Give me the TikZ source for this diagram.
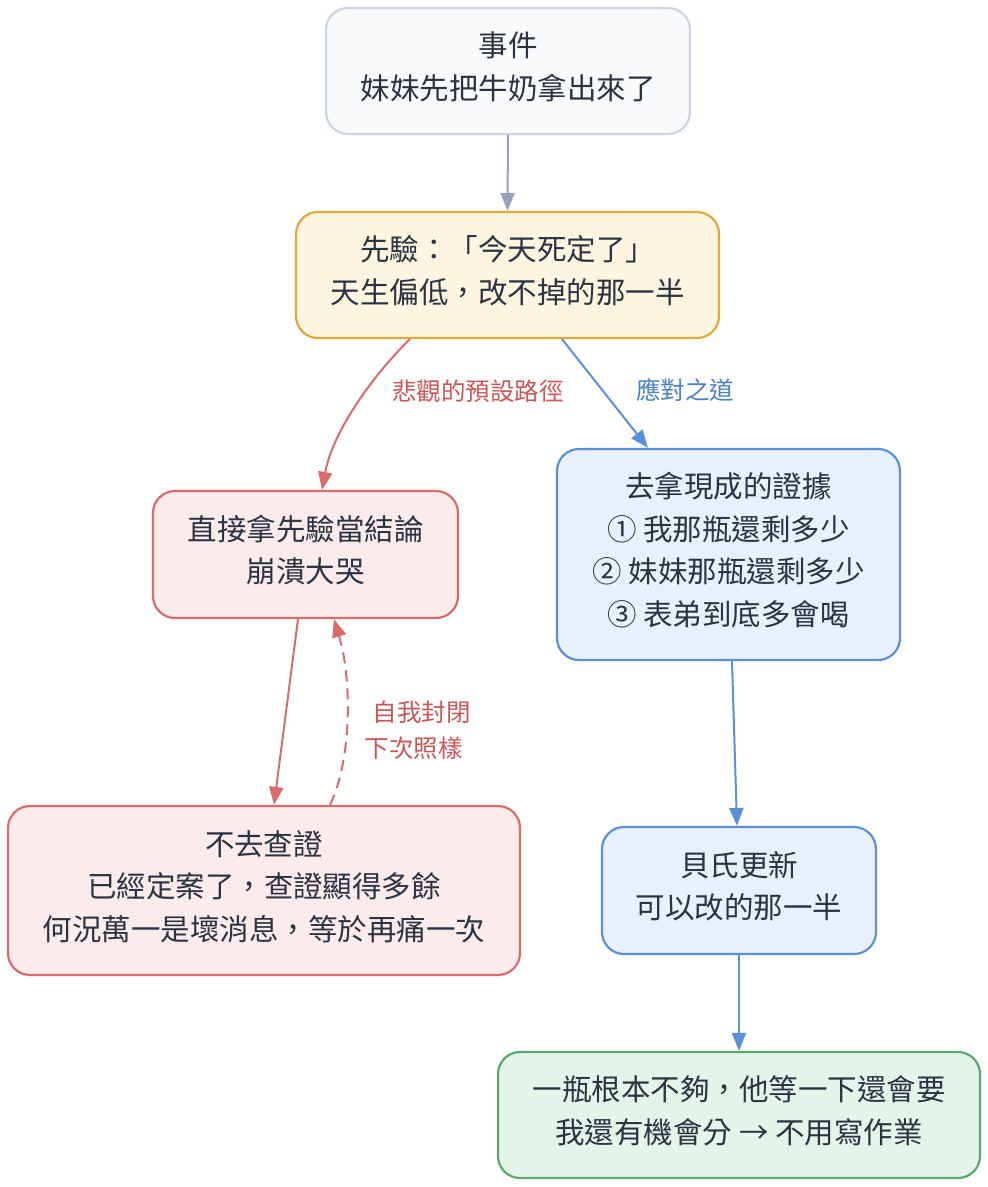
\documentclass[tikz,border=0pt]{standalone}
\usepackage{fontspec}
\newfontfamily\cjk{Noto Sans CJK TC}
\usetikzlibrary{arrows.meta}
\definecolor{txt}{HTML}{2A3342}
\definecolor{grayfill}{HTML}{F8FAFC}
\definecolor{graydraw}{HTML}{CBD5E1}
\definecolor{grayarrow}{HTML}{94A3B8}
\definecolor{yelfill}{HTML}{FEF5E0}
\definecolor{yeldraw}{HTML}{E3A83B}
\definecolor{redfill}{HTML}{FCEBEB}
\definecolor{reddraw}{HTML}{DB6B6B}
\definecolor{redlabel}{HTML}{CC5555}
\definecolor{bluefill}{HTML}{E8F0FD}
\definecolor{bluedraw}{HTML}{5B90D8}
\definecolor{bluelabel}{HTML}{4A80C8}
\definecolor{greenfill}{HTML}{E5F4E9}
\definecolor{greendraw}{HTML}{5BA86C}
\begin{document}
\begin{tikzpicture}[x=1pt,y=-1pt,
  nbox/.style={draw, rounded corners=22pt, line width=2.2pt, align=center, text=txt,
    font=\fontsize{29.5pt}{42.5pt}\cjk, inner sep=0pt, text depth=11pt},
  graybox/.style={nbox, fill=grayfill, draw=graydraw},
  yelbox/.style={nbox, fill=yelfill, draw=yeldraw},
  redbox/.style={nbox, fill=redfill, draw=reddraw},
  bluebox/.style={nbox, fill=bluefill, draw=bluedraw},
  greenbox/.style={nbox, fill=greenfill, draw=greendraw},
  conn/.style={line width=2pt, -{Triangle[length=18pt,width=14pt]}},
  elabel/.style={font=\fontsize{24.5pt}{36pt}\cjk, align=center, inner sep=0pt}
]
\useasboundingbox (0,0) rectangle (988,1187);

\node[graybox, minimum width=364pt, minimum height=126pt] (event) at (508,71)
  {事件\\妹妹先把牛奶拿出來了};
\node[yelbox, minimum width=423pt, minimum height=126pt] (prior) at (507.5,275)
  {先驗：「今天死定了」\\天生偏低，改不掉的那一半};
\node[redbox, minimum width=305pt, minimum height=127pt] (direct) at (305.5,554.5)
  {直接拿先驗當結論\\崩潰大哭};
\node[redbox, minimum width=512pt, minimum height=169pt] (notcheck) at (264,890.5)
  {不去查證\\已經定案了，查證顯得多餘\\何況萬一是壞消息，等於再痛一次};
\node[bluebox, minimum width=343pt, minimum height=211pt] (evidence) at (728.5,554.5)
  {去拿現成的證據\\① 我那瓶還剩多少\\② 妹妹那瓶還剩多少\\③ 表弟到底多會喝};
\node[bluebox, minimum width=274pt, minimum height=127pt] (bayes) at (739,890.5)
  {貝氏更新\\可以改的那一半};
\node[greenbox, minimum width=482pt, minimum height=126pt] (result) at (739,1115)
  {一瓶根本不夠，他等一下還會要\\我還有機會分 → 不用寫作業};

% connectors
\draw[conn, grayarrow] (event.south) -- (prior.north);
\draw[conn, reddraw] ([xshift=-97.5pt]prior.south) .. controls +(-35,34) and +(11,-60) .. ([xshift=16.5pt]direct.north);
\draw[conn, bluedraw] ([xshift=54.5pt]prior.south) -- ([xshift=-80.5pt]evidence.north);
\draw[conn, reddraw] ([xshift=-7.5pt]direct.south) -- ([xshift=10pt]notcheck.north);
\draw[conn, reddraw, dash pattern=on 11pt off 7pt] ([xshift=66pt]notcheck.north) .. controls +(22,-46) and +(18,60) .. ([xshift=28.5pt]direct.south);
\draw[conn, bluedraw] ([xshift=3.5pt]evidence.south) -- ([xshift=-2pt]bayes.north);
\draw[conn, bluedraw] (bayes.south) -- (result.north);

% labels
\node[elabel, text=redlabel] (lblpess) at (478,391) {悲觀的預設路徑};
\node[elabel, text=bluelabel] (lblcope) at (685,390) {應對之道};
\node[elabel, text=redlabel] (lblloop) at (413.5,730) {\hspace*{16pt}自我封閉\\下次照樣};
\end{tikzpicture}
\end{document}
